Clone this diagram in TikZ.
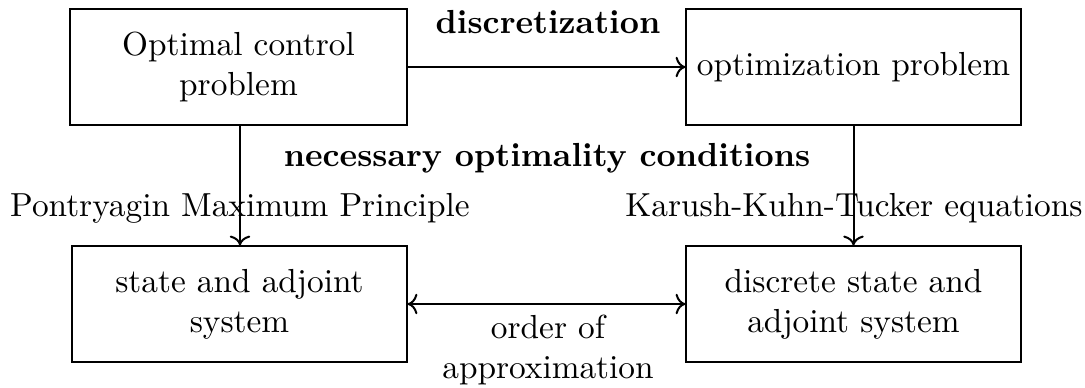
\documentclass[tikz,border=0pt]{standalone}
\usetikzlibrary{arrows.meta}
\begin{document}
\begin{tikzpicture}[x=0.3pt,y=-0.3pt,
  box/.style={draw,thin,align=center,inner sep=0pt,minimum height=116*0.3pt},
  conn/.style={semithick,->},
  lbl/.style={inner sep=0pt,align=center}]
\useasboundingbox (0,0) rectangle (1085,387);
\node[box,minimum width=337*0.3pt] (ocp) at (238.5,67) {Optimal control\\problem};
\node[box,minimum width=335*0.3pt] (opt) at (853.5,67) {optimization problem};
\node[box,minimum width=335*0.3pt] (sas) at (239.5,304) {state and adjoint\\system};
\node[box,minimum width=335*0.3pt] (dsas) at (853.5,304) {discrete state and\\adjoint system};
\draw[conn] (ocp.east) -- (opt.west);
\draw[conn] (ocp.south -| 240,0) -- (sas.north -| 240,0);
\draw[conn] (opt.south) -- (dsas.north);
\draw[conn,<->] (sas.east) -- (dsas.west);
\node[lbl,font=\bfseries] (disc) at (548,22) {discretization};
\node[lbl,font=\bfseries] (noc) at (547,158) {necessary optimality conditions};
\node[lbl] (pmp) at (240,208) {Pontryagin Maximum Principle};
\node[lbl] (kkt) at (854,208) {Karush-Kuhn-Tucker equations};
\node[lbl] (ooa) at (548,350) {order of\\approximation};
\end{tikzpicture}
\end{document}
